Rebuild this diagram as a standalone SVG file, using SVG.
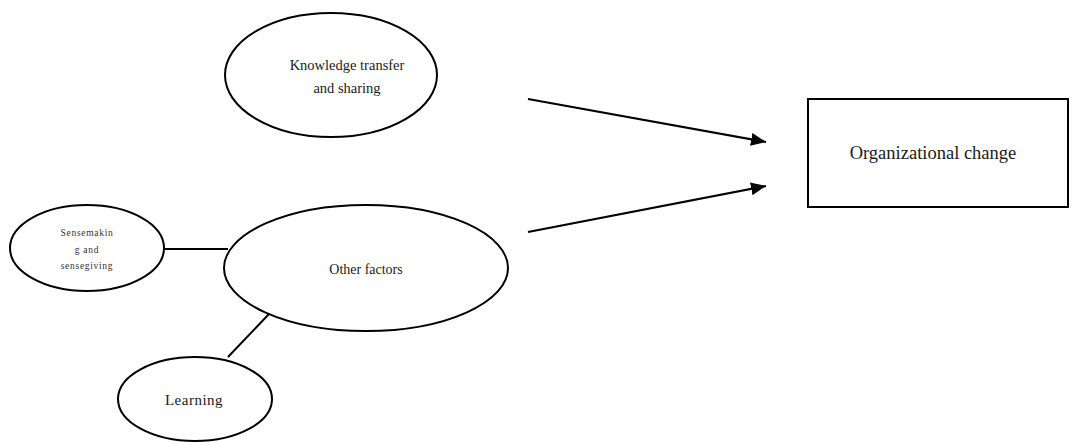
<svg xmlns="http://www.w3.org/2000/svg" width="1072" height="443" viewBox="0 0 1072 443">
<defs>
<style>
.n{fill:#fff;stroke:#000;stroke-width:2}
.t{font-family:"Liberation Serif","Times New Roman",serif;fill:#1a1a1a;text-anchor:middle}
.s{font-size:9.5px;letter-spacing:0.7px;fill:#333}
.c{stroke:#000;stroke-width:2;fill:none}
</style>
<marker id="ah" viewBox="0 0 15 13" refX="15" refY="6.5" markerWidth="15" markerHeight="13" markerUnits="userSpaceOnUse" orient="auto"><path d="M0,0 L15,6.5 L0,13 z" fill="#000"/></marker>
</defs>
<rect width="1072" height="443" fill="#fff"/>
<g id="connectors">
<line class="c" x1="528" y1="99" x2="766" y2="142" marker-end="url(#ah)"/>
<line class="c" x1="528" y1="232" x2="766" y2="186" marker-end="url(#ah)"/>
<line class="c" x1="163" y1="249" x2="228" y2="249"/>
<line class="c" x1="228" y1="357" x2="269" y2="314"/>
</g>
<g id="knowledge">
<ellipse class="n" cx="331" cy="75" rx="106" ry="62"/>
<text class="t" x="347" y="70" font-size="14.5">Knowledge transfer</text>
<text class="t" x="347" y="93" font-size="14.5">and sharing</text>
</g>
<g id="other">
<ellipse class="n" cx="366" cy="268" rx="142" ry="63"/>
<text class="t" x="366" y="274" font-size="14">Other factors</text>
</g>
<g id="sensemaking">
<ellipse class="n" cx="87" cy="248" rx="77" ry="43"/>
<text class="t s" x="87" y="236">Sensemakin</text>
<text class="t s" x="87" y="253">g and</text>
<text class="t s" x="87" y="269">sensegiving</text>
</g>
<g id="learning">
<ellipse class="n" cx="195" cy="399" rx="77" ry="42"/>
<text class="t" x="194" y="405" font-size="15" letter-spacing="0.5">Learning</text>
</g>
<g id="orgchange">
<rect class="n" x="808" y="99" width="260" height="108"/>
<text class="t" x="933" y="159" font-size="18.5">Organizational change</text>
</g>
</svg>
